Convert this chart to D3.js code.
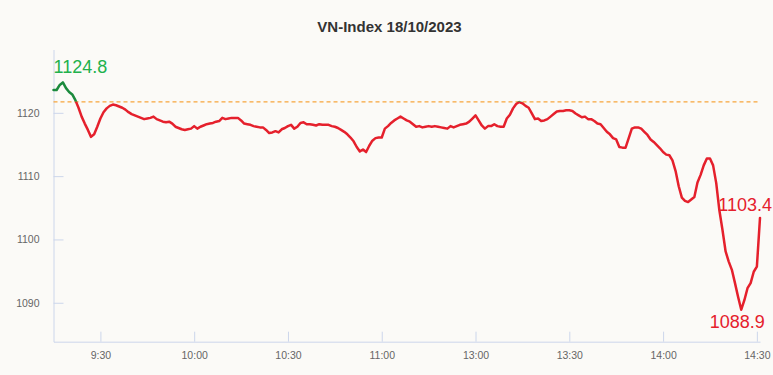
<!DOCTYPE html>
<html>
<head>
<meta charset="utf-8">
<script src="https://cdn.jsdelivr.net/npm/d3@7"></script>
<style>
  body { margin: 0; background: #fbfaf7; }
  svg { display: block; font-family: 'Liberation Sans', Arial, sans-serif; }
</style>
</head>
<body>
<div id="chart"></div>
<script>
/* global d3 */

var TITLE = 'VN-Index 18/10/2023'
var REF_CLOSE = 1121.74 // previous session close (dashed line)

// one value per minute, morning session from 9:15, afternoon from 13:00
var MORNING_START = '9:15'
var MORNING_END = '11:30'
var MORNING_VALUES = [
  1123.6, 1123.6, 1124.4, 1124.8, 1123.9, 1123.3, 1122.9, 1122.0, 1120.8, 1119.4,
  1118.3, 1117.3, 1116.2, 1116.6, 1117.8, 1119.1, 1120.1, 1120.7, 1121.1, 1121.3,
  1121.2, 1121.0, 1120.8, 1120.5, 1120.1, 1119.8, 1119.6, 1119.4, 1119.2, 1119.0,
  1119.1, 1119.2, 1119.4, 1119.0, 1118.8, 1118.6, 1118.5, 1118.6, 1118.3, 1117.8,
  1117.6, 1117.4, 1117.3, 1117.4, 1117.5, 1117.9, 1117.5, 1117.8, 1118.0, 1118.2,
  1118.3, 1118.4, 1118.6, 1118.7, 1119.2, 1119.0, 1119.1, 1119.2, 1119.2, 1119.2,
  1118.8, 1118.3, 1118.2, 1118.1, 1117.9, 1117.8, 1117.7, 1117.7, 1117.3, 1116.8,
  1116.9, 1117.1, 1116.9, 1117.4, 1117.6, 1117.9, 1118.1, 1117.5, 1117.8, 1118.4,
  1118.5, 1118.2, 1118.2, 1118.1, 1118.0, 1118.2, 1118.1, 1118.1, 1118.1, 1117.9,
  1117.8, 1117.6, 1117.3, 1117.0, 1116.6, 1116.1, 1115.5, 1114.6, 1113.9, 1114.2,
  1113.8, 1114.8, 1115.6, 1116.0, 1116.1, 1116.1, 1117.5, 1117.9, 1118.4, 1118.8,
  1119.1, 1119.4, 1119.1, 1118.8, 1118.6, 1118.2, 1117.8, 1117.9, 1117.7, 1117.8,
  1117.9, 1117.8, 1117.9, 1117.8, 1117.7, 1117.6, 1117.5, 1117.9, 1117.7, 1117.9,
  1118.1, 1118.2, 1118.3, 1118.6, 1119.1
]
var AFTERNOON_START = '13:00'
var AFTERNOON_VALUES = [
  1119.6, 1118.8, 1118.0, 1117.5, 1117.9, 1117.9, 1118.2, 1117.9, 1117.8, 1117.8,
  1119.1, 1119.7, 1120.7, 1121.4, 1121.7, 1121.5, 1121.1, 1120.8, 1119.9, 1119.0,
  1119.1, 1118.7, 1118.8, 1119.0, 1119.4, 1119.8, 1120.2, 1120.3, 1120.3, 1120.4,
  1120.4, 1120.3, 1119.9, 1119.6, 1119.3, 1119.4, 1119.0, 1119.0, 1118.7, 1118.3,
  1118.2, 1117.6, 1117.0, 1116.6, 1116.0, 1115.8, 1114.6, 1114.5, 1114.5, 1116.0,
  1117.5, 1117.7, 1117.7, 1117.5, 1117.0, 1116.5, 1115.8, 1115.4, 1114.9, 1114.4,
  1113.8, 1113.4, 1113.3, 1112.5, 1110.8, 1108.4, 1106.6, 1106.1, 1105.9, 1106.3,
  1106.7, 1109.0, 1110.2, 1111.7, 1112.8, 1112.8, 1111.7, 1108.9, 1104.6, 1101.5,
  1098.1, 1096.5, 1095.2, 1093.1, 1090.9, 1088.9, 1090.4, 1092.3, 1093.1, 1094.9,
  1095.7, 1103.4
]

var X_TICKS = ['9:30', '10:00', '10:30', '11:00', '13:00', '13:30', '14:00', '14:30']
var Y_TICKS = [1090, 1100, 1110, 1120]
var Y_DOMAIN = [1083.85, 1130]

;(function () {
  var WIDTH = 773
  var HEIGHT = 375
  var LEFT = 53.5
  var RIGHT = 760
  var TOP = 49.5
  var BOTTOM = 341.7

  var RED = '#e5202c'
  var GREEN_LINE = '#1b8a3d'
  var GREEN_TEXT = '#22b14c'
  var AXIS = '#ccd6eb'

  //
  // Time handling: the lunch break is cut out of the x axis
  //
  function toMinutes (t) {
    var p = t.split(':')
    return +p[0] * 60 + +p[1]
  }

  function fmt (m) {
    var mm = m % 60
    return Math.floor(m / 60) + ':' + (mm < 10 ? '0' : '') + mm
  }

  var open = toMinutes(MORNING_START)
  var lunch = toMinutes(AFTERNOON_START) - toMinutes(MORNING_END)

  function session (t) {
    var m = toMinutes(t)
    return m >= toMinutes(AFTERNOON_START) ? m - lunch - open : m - open
  }

  var points = MORNING_VALUES.map(function (v, i) {
    return { t: fmt(open + i), v: v }
  }).concat(AFTERNOON_VALUES.map(function (v, i) {
    return { t: fmt(toMinutes(AFTERNOON_START) + i), v: v }
  }))

  var x = d3.scaleLinear()
    .domain([0, session(points[points.length - 1].t)])
    .range([LEFT, RIGHT])

  var y = d3.scaleLinear()
    .domain(Y_DOMAIN)
    .range([BOTTOM, TOP])

  var svg = d3.select('#chart').append('svg')
    .attr('width', WIDTH)
    .attr('height', HEIGHT)

  svg.append('rect')
    .attr('width', WIDTH)
    .attr('height', HEIGHT)
    .attr('fill', '#fbfaf7')

  svg.append('text')
    .attr('x', WIDTH / 2 + 3)
    .attr('y', 32)
    .attr('text-anchor', 'middle')
    .attr('font-size', 15)
    .attr('font-weight', 'bold')
    .attr('fill', '#333')
    .text(TITLE)

  //
  // Axes
  //
  var yAxis = svg.append('g')
    .attr('transform', 'translate(' + LEFT + ',0)')
    .call(d3.axisLeft(y)
      .tickValues(Y_TICKS)
      .tickFormat(d3.format('d'))
      .tickSizeInner(-10).tickSizeOuter(0).tickPadding(14))

  var xAxis = svg.append('g')
    .attr('transform', 'translate(0,' + BOTTOM + ')')
    .call(d3.axisBottom(x)
      .tickValues(X_TICKS.map(session))
      .tickFormat(function (d, i) { return X_TICKS[i] })
      .tickSizeInner(-10).tickSizeOuter(0).tickPadding(10))

  ;[yAxis, xAxis].forEach(function (g) {
    g.selectAll('path, line').attr('stroke', AXIS)
    g.selectAll('text')
      .attr('fill', '#666')
      .attr('font-size', 10.5)
      .attr('font-family', "'Liberation Sans', Arial, sans-serif")
  })

  //
  // Reference line and price line (green above the reference, red below)
  //
  svg.append('line')
    .attr('x1', LEFT)
    .attr('x2', RIGHT)
    .attr('y1', y(REF_CLOSE))
    .attr('y2', y(REF_CLOSE))
    .attr('stroke', '#f7a53c')
    .attr('stroke-width', 1.2)
    .attr('stroke-dasharray', '4,3')

  var defs = svg.append('defs')
  defs.append('clipPath').attr('id', 'above')
    .append('rect')
    .attr('x', 0).attr('y', 0)
    .attr('width', WIDTH).attr('height', y(REF_CLOSE))
  defs.append('clipPath').attr('id', 'below')
    .append('rect')
    .attr('x', 0).attr('y', y(REF_CLOSE))
    .attr('width', WIDTH).attr('height', HEIGHT - y(REF_CLOSE))

  var line = d3.line()
    .x(function (d) { return x(session(d.t)) })
    .y(function (d) { return y(d.v) })

  ;[['above', GREEN_LINE], ['below', RED]].forEach(function (c) {
    svg.append('path')
      .datum(points)
      .attr('clip-path', 'url(#' + c[0] + ')')
      .attr('d', line)
      .attr('fill', 'none')
      .attr('stroke', c[1])
      .attr('stroke-width', 2.5)
      .attr('stroke-linejoin', 'round')
      .attr('stroke-linecap', 'round')
  })

  //
  // High / low / last labels
  //
  var hi = points.reduce(function (a, b) { return b.v > a.v ? b : a })
  var lo = points.reduce(function (a, b) { return b.v < a.v ? b : a })
  var last = points[points.length - 1]

  function label (d, color, dx, dy) {
    var t = svg.append('text')
      .attr('y', y(d.v) + dy)
      .attr('text-anchor', 'middle')
      .attr('font-size', 18)
      .attr('fill', color)
      .text(d.v.toFixed(1))
    var w = t.node().getComputedTextLength()
    var cx = Math.max(LEFT + w / 2, Math.min(WIDTH - 1 - w / 2, x(session(d.t)) + dx))
    t.attr('x', cx)
  }

  label(hi, GREEN_TEXT, 0, -9)
  label(last, RED, 0, -7)
  label(lo, RED, -4, 18)
})()
</script>
</body>
</html>
